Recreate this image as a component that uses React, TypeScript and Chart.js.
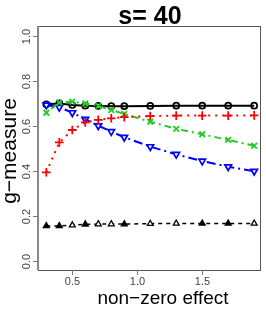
import React, { useEffect, useRef } from "react";
import { Chart, registerables } from "chart.js";

Chart.register(...registerables);

const effects = [0.3, 0.4, 0.5, 0.6, 0.7, 0.8, 0.9, 1.1, 1.3, 1.5, 1.7, 1.9];
const circleSeries = [0.696, 0.7, 0.693, 0.69, 0.689, 0.688, 0.688, 0.689, 0.69, 0.69, 0.69, 0.69];
const plusSeries = [0.394, 0.527, 0.582, 0.616, 0.627, 0.634, 0.639, 0.644, 0.646, 0.646, 0.646, 0.647];
const crossSeries = [0.659, 0.704, 0.708, 0.7, 0.689, 0.671, 0.653, 0.619, 0.587, 0.563, 0.538, 0.512];
const downSeries = [0.693, 0.683, 0.659, 0.63, 0.601, 0.575, 0.55, 0.508, 0.474, 0.444, 0.419, 0.399];
const triSeries = [0.156, 0.156, 0.159, 0.163, 0.164, 0.164, 0.164, 0.166, 0.167, 0.167, 0.167, 0.167];
const triFilled = [true, true, false, true, false, false, true, false, false, true, true, false];

const xTicks = [0.5, 1.0, 1.5];
const xTickLabels = ["0.5", "1.0", "1.5"];
const yTicks = [0, 0.2, 0.4, 0.6, 0.8, 1.0];
const yTickLabels = ["0.0", "0.2", "0.4", "0.6", "0.8", "1.0"];

const titleText = "s= 40";
const xLabel = "non\u2212zero effect";
const yLabel = "g\u2212measure";

const FONT = "'Liberation Sans', Arial, sans-serif";

const pts = (ys: number[]) => effects.map((x, i) => ({ x, y: ys[i] }));

const decorPlugin = {
  id: "decor",
  afterDraw(chart: any) {
    const ctx = chart.ctx as CanvasRenderingContext2D;
    const { left, right, top, bottom } = chart.chartArea;
    const xs = chart.scales.x;
    const ys = chart.scales.y;
    ctx.save();
    ctx.strokeStyle = "#555";
    ctx.lineWidth = 1;
    ctx.strokeRect(Math.round(left) + 0.5, Math.round(top) + 0.5, Math.round(right - left), Math.round(bottom - top));
    ctx.strokeStyle = "#777";
    ctx.lineWidth = 1;
    ctx.fillStyle = "#444";
    ctx.font = `11px ${FONT}`;
    xTicks.forEach((v, i) => {
      const px = Math.round(xs.getPixelForValue(v)) + 0.5;
      ctx.beginPath();
      ctx.moveTo(px, bottom);
      ctx.lineTo(px, bottom + 5);
      ctx.stroke();
      ctx.textAlign = "center";
      ctx.textBaseline = "alphabetic";
      ctx.fillText(xTickLabels[i], px, bottom + 15);
    });
    yTicks.forEach((v, i) => {
      const py = Math.round(ys.getPixelForValue(v)) + 0.5;
      ctx.beginPath();
      ctx.moveTo(left, py);
      ctx.lineTo(left - 5, py);
      ctx.stroke();
      ctx.save();
      ctx.translate(left - 8, py);
      ctx.rotate(-Math.PI / 2);
      ctx.textAlign = "center";
      ctx.textBaseline = "alphabetic";
      ctx.fillText(yTickLabels[i], 0, 0);
      ctx.restore();
    });
    ctx.strokeStyle = "#888";
    ctx.lineWidth = 2;
    ctx.beginPath();
    ctx.moveTo(left, top);
    ctx.lineTo(left, bottom);
    ctx.stroke();
    ctx.fillStyle = "#000";
    ctx.font = `bold 25px ${FONT}`;
    ctx.textAlign = "center";
    ctx.textBaseline = "alphabetic";
    ctx.fillText(titleText, (left + right) / 2 + 1, 24);
    ctx.font = `19px ${FONT}`;
    ctx.fillText(xLabel, 163, 304);
    ctx.save();
    ctx.translate(16, (top + bottom) / 2 + 3);
    ctx.rotate(-Math.PI / 2);
    ctx.font = `21px ${FONT}`;
    ctx.fillText(yLabel, 0, 0);
    ctx.restore();
    ctx.restore();
  },
};

export default function App() {
  const ref = useRef<HTMLCanvasElement | null>(null);
  useEffect(() => {
    if (!ref.current) return;
    const chart = new Chart(ref.current, {
      type: "line",
      data: {
        datasets: [
          {
            data: pts(triSeries),
            borderColor: "#000",
            borderWidth: 1.5,
            borderDash: [4, 4],
            pointStyle: "triangle",
            pointRadius: 3.4,
            pointBorderWidth: 1.3,
            pointBorderColor: "#000",
            pointBackgroundColor: triFilled.map((f) => (f ? "#000" : "#fff")),
            tension: 0,
          },
          {
            data: pts(plusSeries),
            borderColor: "#ff0000",
            borderWidth: 2,
            borderDash: [2, 5],
            pointStyle: "cross",
            pointRadius: 4.3,
            pointBorderWidth: 1.8,
            pointBorderColor: "#ff0000",
            tension: 0,
          },
          {
            data: pts(crossSeries),
            borderColor: "#22cc22",
            borderWidth: 2,
            borderDash: [2, 4, 7, 4],
            pointStyle: "crossRot",
            pointRadius: 4,
            pointBorderWidth: 1.8,
            pointBorderColor: "#22cc22",
            tension: 0,
          },
          {
            data: pts(downSeries),
            borderColor: "#0000ff",
            borderWidth: 2,
            borderDash: [9, 4, 2, 4],
            pointStyle: "triangle",
            pointRotation: 180,
            pointRadius: 3.8,
            pointBorderWidth: 1.7,
            pointBorderColor: "#0000ff",
            pointBackgroundColor: "#fff",
            tension: 0,
          },
          {
            data: pts(circleSeries),
            borderColor: "#000",
            borderWidth: 2,
            pointStyle: "circle",
            pointRadius: 3,
            pointBorderWidth: 1.7,
            pointBorderColor: "#000",
            pointBackgroundColor: "rgba(255,255,255,0)",
            tension: 0,
          },
        ],
      },
      options: {
        animation: false,
        responsive: false,
        layout: { padding: { left: 38, right: 6, top: 26, bottom: 40 } },
        plugins: { legend: { display: false }, tooltip: { enabled: false }, title: { display: false } },
        scales: {
          x: { type: "linear", min: 0.236, max: 1.944, display: false },
          y: { type: "linear", min: -0.04, max: 1.044, display: false },
        },
      },
      plugins: [decorPlugin],
    });
    return () => chart.destroy();
  }, []);
  return (
    <div style={{ position: "absolute", left: 0, top: 0, width: 266, height: 310 }}>
      <canvas ref={ref} width={266} height={310} style={{ width: 266, height: 310, display: "block" }} />
    </div>
  );
}
